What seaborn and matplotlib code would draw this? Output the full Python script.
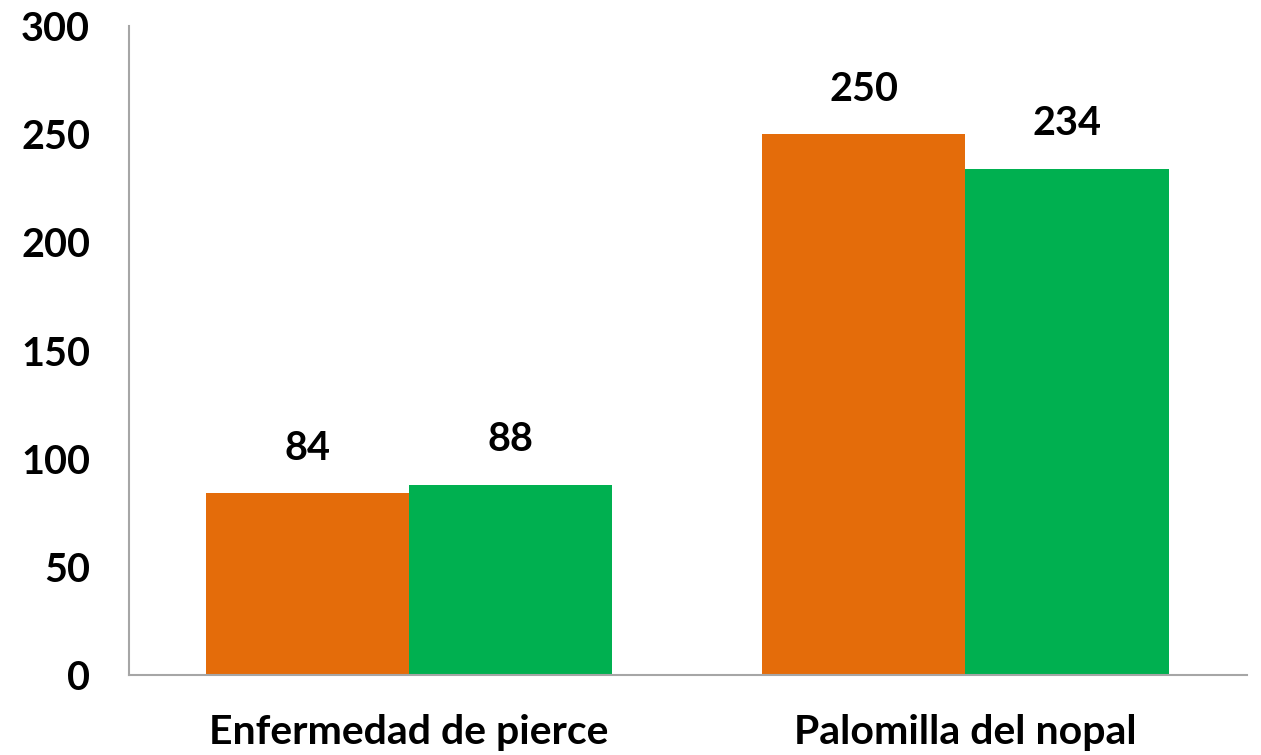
import matplotlib
matplotlib.use('Agg')
import matplotlib.pyplot as plt
import seaborn as sns
import pandas as pd

# Datos
categorias = ['Enfermedad de pierce', 'Palomilla del nopal']
serie_1 = [84, 250]
serie_2 = [88, 234]
colores = ['#E46C0A', '#00B050']

data = pd.DataFrame({
    'Categoria': categorias * 2,
    'Valor': serie_1 + serie_2,
    'Serie': ['Serie 1'] * len(categorias) + ['Serie 2'] * len(categorias),
})

sns.set_style('white')
plt.rcParams['font.family'] = ['Lato', 'DejaVu Sans']

fig = plt.figure(figsize=(12.61, 7.55), dpi=100)
ax = fig.add_axes([0.1023, 0.106, 0.8866, 0.8594])

sns.barplot(data=data, x='Categoria', y='Valor', hue='Serie',
            palette=colores, width=0.73, saturation=1, legend=False,
            linewidth=0, ax=ax)

for cont in ax.containers:
    ax.bar_label(cont, fmt='%d', padding=19, fontsize=28.5, fontweight='bold',
                 color='black')

ax.set_ylim(0, 300)
ax.set_xlim(-0.503, 1.506)
ax.set_yticks(range(0, 301, 50))
ax.set_xlabel('')
ax.set_ylabel('')
ax.tick_params(axis='y', length=0, pad=28, labelsize=28.5, labelcolor='black')
ax.tick_params(axis='x', length=0, pad=28, labelsize=29.5, labelcolor='black')
for lab in ax.get_xticklabels() + ax.get_yticklabels():
    lab.set_fontweight('bold')

for s in ['top', 'right']:
    ax.spines[s].set_visible(False)
for s in ['left', 'bottom']:
    ax.spines[s].set_color('#A6A6A6')
    ax.spines[s].set_linewidth(1.5)

fig.savefig('out.png', dpi=100)
